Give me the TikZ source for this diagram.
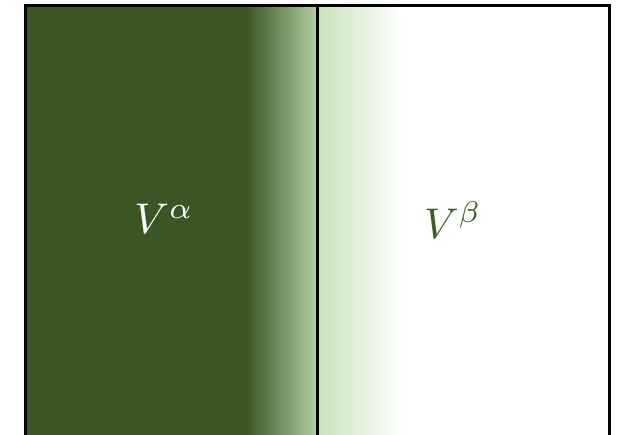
\documentclass[tikz,border=0pt]{standalone}
\usepackage{amsmath}
\definecolor{dkgreen}{RGB}{59,85,37}
\definecolor{midgreen}{RGB}{178,206,158}
\definecolor{ltgreen}{RGB}{200,226,186}
\definecolor{txtgreen}{RGB}{60,95,35}
\tikzset{
  biglabel/.style={scale=4.3, inner sep=0pt},
  frame/.style={line width=3pt, draw=black}
}
\begin{document}
\begin{tikzpicture}[x=1pt,y=1pt]
\useasboundingbox (0,0) rectangle (621,434);
\fill[dkgreen] (25,-3) rectangle (246,428);
\shade[left color=dkgreen, right color=midgreen] (245,-3) rectangle (317,428);
\shade[left color=ltgreen, right color=white] (317,-3) rectangle (402,428);
\coordinate (bl) at (25.5,-3);
\coordinate (tl) at (25.5,428.5);
\coordinate (tr) at (609,428.5);
\coordinate (br) at (609,-3);
\coordinate (mt) at (317,428.5);
\coordinate (mb) at (317,-3);
\draw[frame] (bl) -- (tl) -- (tr) -- (br);
\draw[frame] (mt) -- (mb);
\node[biglabel, text=white] (va) at (164,215) {$V^{\alpha}$};
\node[biglabel, text=txtgreen] (vb) at (453,214) {$V^{\beta}$};
\end{tikzpicture}
\end{document}
